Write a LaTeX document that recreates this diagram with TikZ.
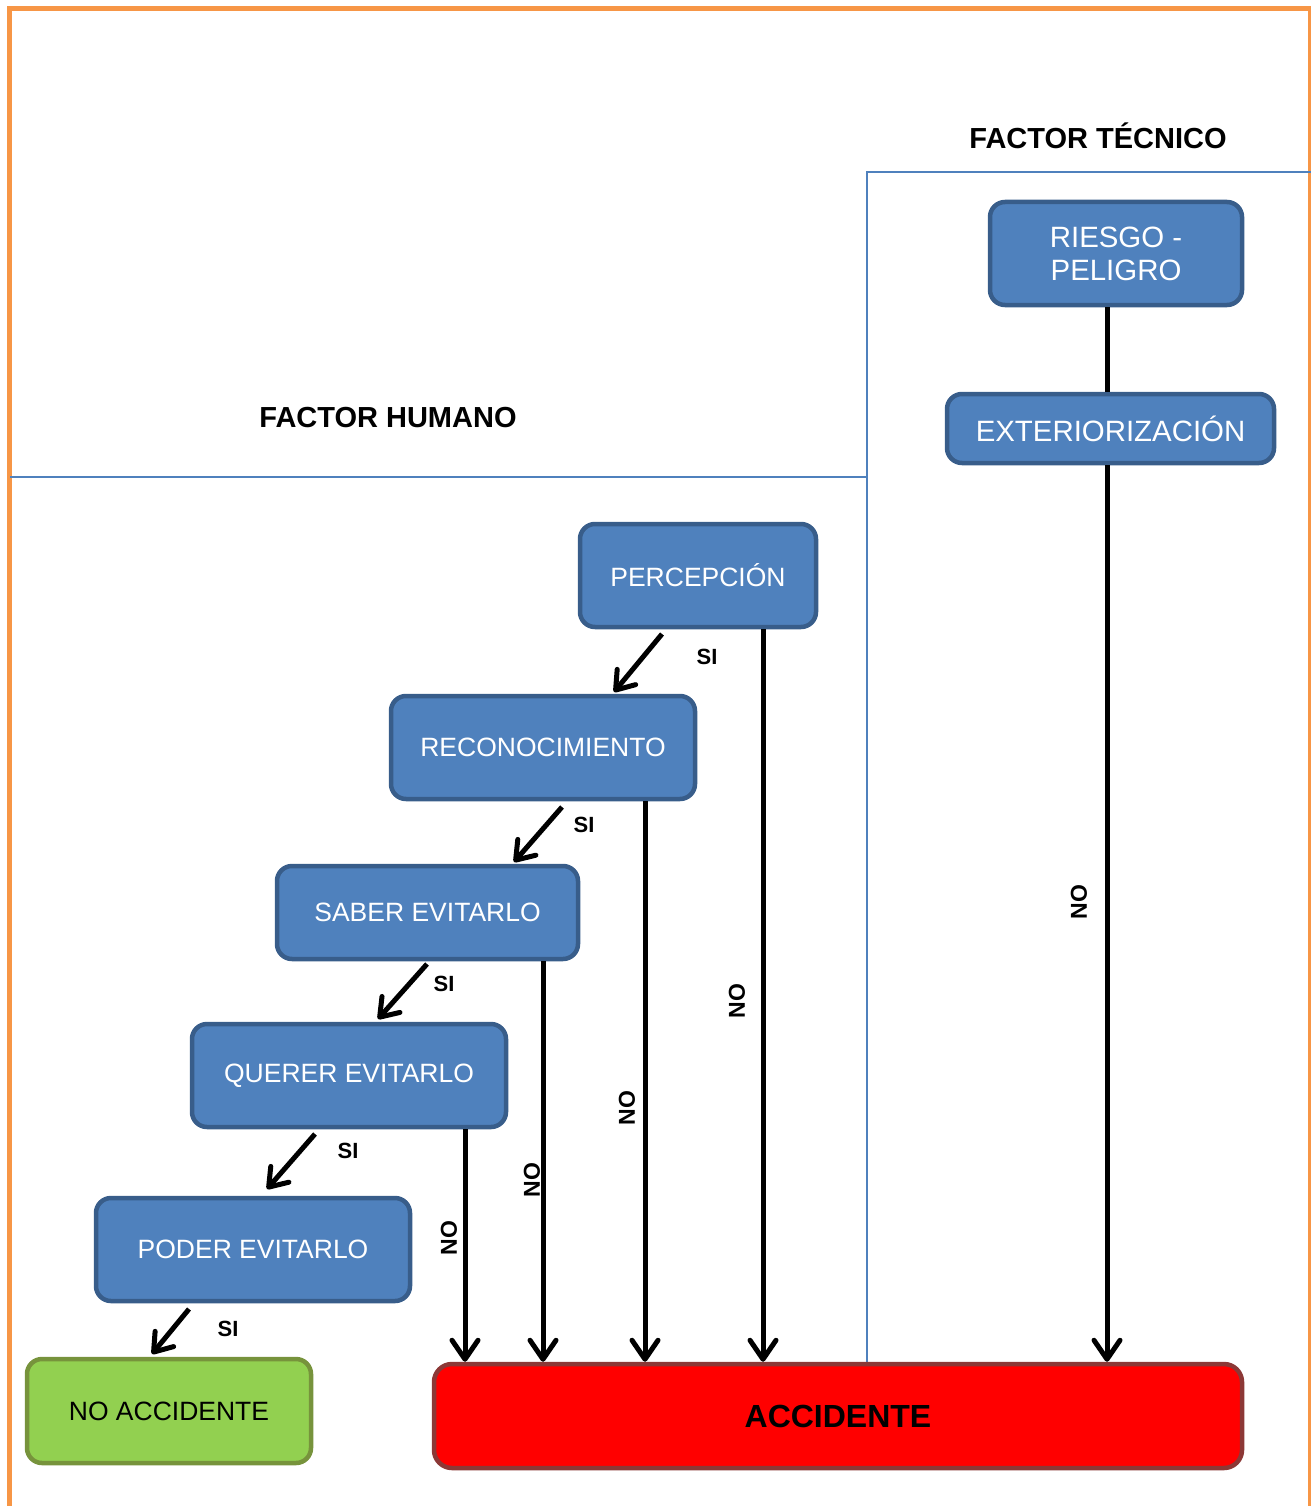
\documentclass[tikz,border=0pt]{standalone}
\usepackage{fontspec}
\setmainfont{Liberation Sans}
\usetikzlibrary{arrows.meta}
\definecolor{frameor}{HTML}{F79646}
\definecolor{divblue}{HTML}{4F81BD}
\definecolor{boxfill}{HTML}{4F81BD}
\definecolor{boxline}{HTML}{385D8A}
\definecolor{greenfill}{HTML}{92D050}
\definecolor{greenline}{HTML}{77933C}
\definecolor{redline}{HTML}{8C3836}
\tikzset{
  bluebox/.style={draw=boxline, fill=boxfill, line width=4.5pt, rounded corners=15pt,
    text=white, font=\fontsize{26.5}{33}\selectfont, align=center, inner sep=0pt},
  bigtext/.style={font=\fontsize{29.4}{33}\selectfont},
  divider/.style={draw=divblue, line width=2pt},
  noarr/.style={line width=5pt, -{Straight Barb[length=19pt,width=26pt,round]}},
  siarr/.style={line width=5pt, -{Straight Barb[length=17pt,width=24pt,round]}},
  plainline/.style={line width=5pt},
  silabel/.style={font=\fontsize{22}{26}\selectfont\bfseries},
  nolabel/.style={font=\fontsize{23}{26}\selectfont\bfseries, rotate=90},
  title/.style={font=\fontsize{29}{34}\selectfont\bfseries}
}
\begin{document}
\begin{tikzpicture}[x=1pt,y=-1pt]
\useasboundingbox (0,0) rectangle (1310,1506);
% frame
\draw[frameor, line width=5pt] (9,1510) -- (9,9) -- (1310,9) -- (1310,1510);
% dividers
\draw[divider] (10,477) -- (867,477);
\draw[divider] (867,1362) -- (867,172) -- (1312,172);
% titles
\node[title] (ftec) at (1098,136) {FACTOR TÉCNICO};
\node[title] (fhum) at (388,418) {FACTOR HUMANO};
% boxes
\node[bluebox, bigtext, minimum width=252pt, minimum height=103pt] (riesgo) at (1116,253.5) {RIESGO -\\PELIGRO};
\node[bluebox, bigtext, minimum width=327pt, minimum height=69pt] (ext) at (1110.5,428.5) {EXTERIORIZACIÓN};
\node[bluebox, minimum width=236pt, minimum height=103pt] (perc) at (698,575.5) {PERCEPCIÓN};
\node[bluebox, minimum width=304pt, minimum height=103pt] (reco) at (543,747.5) {RECONOCIMIENTO};
\node[bluebox, minimum width=301pt, minimum height=93pt] (saber) at (427.5,912.5) {SABER EVITARLO};
\node[bluebox, minimum width=314pt, minimum height=103pt] (querer) at (349,1075.5) {QUERER EVITARLO};
\node[bluebox, minimum width=314pt, minimum height=103pt] (poder) at (253,1249.5) {PODER EVITARLO};
\node[draw=greenline, fill=greenfill, line width=4.5pt, rounded corners=15pt, inner sep=0pt,
  minimum width=284pt, minimum height=104pt, font=\fontsize{26.5}{33}\selectfont] (noacc) at (169,1411) {NO ACCIDENTE};
\node[draw=redline, fill=red, line width=4.5pt, rounded corners=18pt, inner sep=0pt,
  minimum width=808pt, minimum height=104pt, font=\fontsize{32}{36}\selectfont\bfseries] (acc) at (838,1416) {ACCIDENTE};
% technical factor connectors
\draw[plainline] (riesgo.south -| 1107,0) -- (ext.north -| 1107,0);
\draw[noarr] (ext.south -| 1107,0) -- (acc.north -| 1107,0);
\node[nolabel] (no1) at (1079,902) {NO};
% NO connectors
\draw[noarr] (perc.south -| 763,0) -- (acc.north -| 763,0);
\node[nolabel] (no2) at (737,1001) {NO};
\draw[noarr] (reco.south -| 645,0) -- (acc.north -| 645,0);
\node[nolabel] (no3) at (627,1108) {NO};
\draw[noarr] (saber.south -| 543,0) -- (acc.north -| 543,0);
\node[nolabel] (no4) at (532,1180) {NO};
\draw[noarr] (querer.south -| 465,0) -- (acc.north -| 465,0);
\node[nolabel] (no5) at (449,1238) {NO};
% SI connectors
\coordinate (s1a) at (662,634); \coordinate (s1b) at (614,692);
\coordinate (s2a) at (562,807); \coordinate (s2b) at (514,862);
\coordinate (s3a) at (427,964); \coordinate (s3b) at (378,1019);
\coordinate (s4a) at (315,1134); \coordinate (s4b) at (267,1189);
\coordinate (s5a) at (189,1309); \coordinate (s5b) at (152,1354);
\draw[siarr] (s1a) -- (s1b);
\draw[siarr] (s2a) -- (s2b);
\draw[siarr] (s3a) -- (s3b);
\draw[siarr] (s4a) -- (s4b);
\draw[siarr] (s5a) -- (s5b);
\node[silabel] (si1) at (707,657) {SI};
\node[silabel] (si2) at (584,825) {SI};
\node[silabel] (si3) at (444,984) {SI};
\node[silabel] (si4) at (348,1151) {SI};
\node[silabel] (si5) at (228,1329) {SI};
\end{tikzpicture}
\end{document}
